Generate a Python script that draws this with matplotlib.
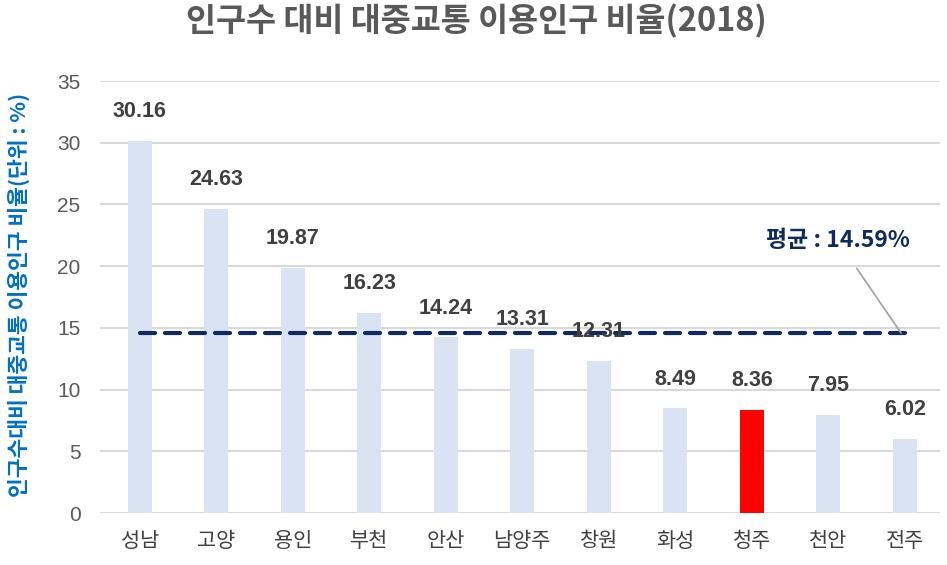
import matplotlib
matplotlib.use("Agg")
import matplotlib.pyplot as plt

plt.rcParams['font.family'] = ['Noto Sans CJK KR', 'DejaVu Sans']
num_font = ['Liberation Sans', 'Noto Sans CJK KR']

cities = ['성남', '고양', '용인', '부천', '안산', '남양주', '창원', '화성', '청주', '천안', '전주']
ratios = [30.16, 24.63, 19.87, 16.23, 14.24, 13.31, 12.31, 8.49, 8.36, 7.95, 6.02]
highlight = '청주'
average = 14.59
yticks = [0, 5, 10, 15, 20, 25, 30, 35]

fig = plt.figure(figsize=(9.47, 5.65), dpi=100)
ax = fig.add_axes([0.1056, 0.092, 0.887, 0.7646])

x = list(range(len(cities)))
colors = ['#FF0000' if c == highlight else '#DAE3F3' for c in cities]
ax.bar(x, ratios, width=0.31, color=colors, zorder=2)

for xi, v in zip(x, ratios):
    ax.annotate(f'{v:.2f}', (xi, v), xytext=(0, 21), textcoords='offset points',
                ha='center', va='center', fontsize=15.5, fontweight='bold',
                color='#404040', zorder=4, family=num_font)

# average line across all cities
ax.plot([x[0], x[-1]], [average, average], color='#0E2A5E', lw=3,
        dashes=(3.6, 2.4), zorder=3, dash_capstyle='round')
ax.annotate(f'평균 : {average:.2f}%', xy=(x[-1] - 0.05, average), xytext=(9.12, 22.1),
            ha='center', va='center', fontsize=16.5, fontweight='bold', color='#0E2A5E',
            arrowprops=dict(arrowstyle='-', color='#A6A6A6', lw=1.3, shrinkA=12, shrinkB=0),
            zorder=5)

ax.set_ylim(0, 35)
ax.set_xlim(-0.52, 10.46)
ax.set_yticks(yticks)
ax.set_xticks(x)
ax.set_xticklabels(cities, fontsize=15, color='#404040')
for lbl in ax.get_yticklabels():
    lbl.set_family(num_font)
ax.tick_params(axis='y', labelsize=15, labelcolor='#595959', length=0, pad=14)
ax.tick_params(axis='x', length=0, pad=12)
ax.grid(axis='y', color='#D9D9D9', lw=1.5, zorder=0)
for s in ax.spines.values():
    s.set_visible(False)

fig.text(0.02, 0.478, '인구수대비 대중교통 이용인구 비율(단위 : %)', rotation=90,
         ha='center', va='center', fontsize=15.5, color='#0070C0', fontweight='bold')
fig.text(0.503, 0.962, '인구수 대비 대중교통 이용인구 비율(2018)', ha='center', va='center',
         fontsize=23.5, fontweight='bold', color='#595959')

fig.savefig('out.png', dpi=100)
